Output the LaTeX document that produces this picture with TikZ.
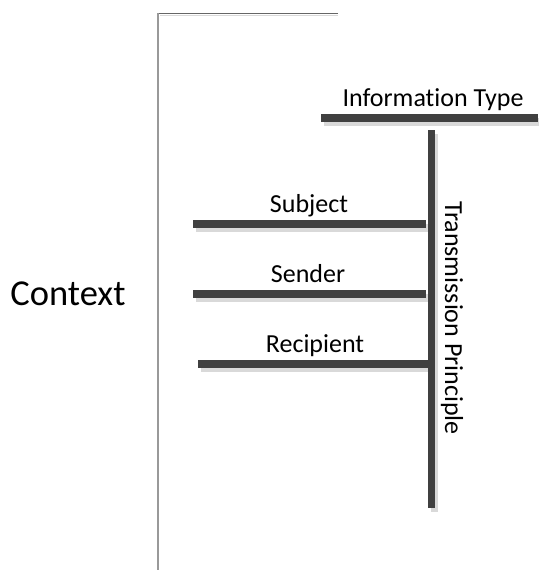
\documentclass[tikz,border=0pt]{standalone}
\usepackage{fontspec}
\setmainfont{Carlito}[Ligatures={NoCommon}]
\definecolor{barcol}{HTML}{404040}
\definecolor{shadowcol}{HTML}{D9D9D9}
\begin{document}
\begin{tikzpicture}[x=1pt,y=-1pt,
  bar/.style={line width=7.5pt,draw=barcol},
  barshadow/.style={line width=7.5pt,draw=shadowcol},
  lbl/.style={font=\fontsize{26}{30}\selectfont,inner sep=0pt,anchor=base},
  big/.style={font=\fontsize{36.5}{42}\selectfont,inner sep=0pt,anchor=base}]
\useasboundingbox (0,0) rectangle (538,570);
% bracket
\coordinate (brT) at (338,13.3);
\coordinate (brC) at (158,13.3);
\coordinate (brB) at (158,570);
\draw[shadowcol,line width=1.5pt] (160,15.3) -- (338,15.3);
\draw[gray!80!black,line width=1.5pt] (brT) -- (brC);
\draw[gray!80,line width=1.5pt] (brC) -- (brB);
% coordinates
\coordinate (itL) at (321,118);
\coordinate (itR) at (538,118);
\coordinate (vT) at (431.5,130);
\coordinate (vB) at (431.5,508);
\coordinate (suL) at (193,224);
\coordinate (suR) at (426,224);
\coordinate (seL) at (193,294);
\coordinate (seR) at (426,294);
\coordinate (reL) at (198,364);
\coordinate (reR) at (431.5,364);
% shadows
\foreach \a/\b in {itL/itR,vT/vB,suL/suR,seL/seR,reL/reR}
  \draw[barshadow] ([shift={(3,4)}]\a) -- ([shift={(3,4)}]\b);
% bars
\draw[bar] (itL) -- (itR);
\draw[bar] (vT) -- (vB);
\draw[bar] (suL) -- (suR);
\draw[bar] (seL) -- (seR);
\draw[bar] (reL) -- (reR);
% labels
\node[big] (ctx) at (68,305) {Context};
\node[lbl] (it) at (433,106) {Information Type};
\node[lbl] (su) at (309,212) {Subject};
\node[lbl] (se) at (308,282) {Sender};
\node[lbl] (re) at (315,352) {Recipient};
\node[font=\fontsize{26}{30}\selectfont,inner sep=0pt,rotate=-90] (tp) at (452,318) {Transmission Principle};
\end{tikzpicture}
\end{document}
